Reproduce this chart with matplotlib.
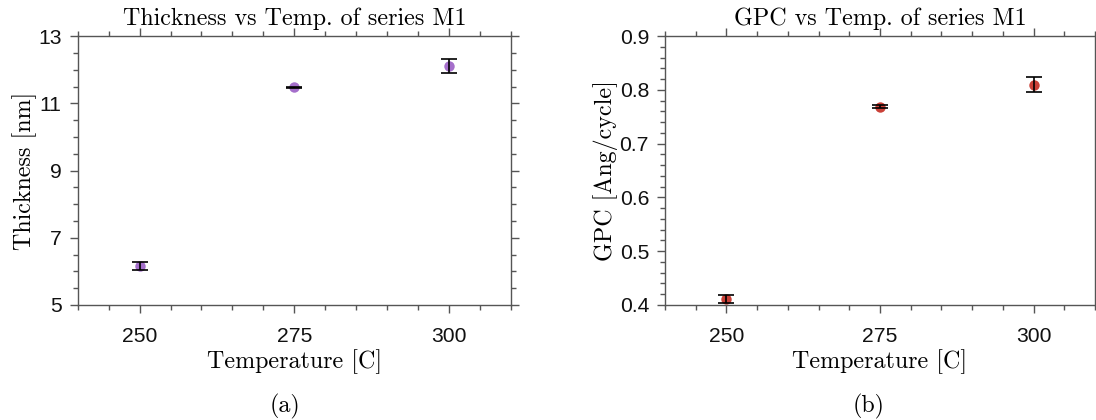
import matplotlib
matplotlib.use("Agg")
import matplotlib.pyplot as plt
from matplotlib.ticker import MultipleLocator, FormatStrFormatter

# Series M1: deposition temperature sweep
temps = [250, 275, 300]
thickness = [6.17, 11.48, 12.11]
thickness_err = [0.12, 0.02, 0.20]
gpc = [0.411, 0.769, 0.810]
gpc_err = [0.008, 0.002, 0.014]

thickness_ticks = [5, 7, 9, 11, 13]
gpc_ticks = [0.4, 0.5, 0.6, 0.7, 0.8, 0.9]

SERIF = "cmr10"
SANS = "Liberation Sans"
SPINE = "#555555"
LABEL_SIZE = 17.3

fig = plt.figure(figsize=(10.96, 4.2), dpi=100)
ax1 = fig.add_axes([0.0708, 0.274, 0.3956, 0.640])
ax2 = fig.add_axes([0.6068, 0.274, 0.3923, 0.640])


def style_axes(ax):
    for sp in ax.spines.values():
        sp.set_color(SPINE)
        sp.set_linewidth(1.0)
    ax.tick_params(which="both", direction="out", top=True, right=True,
                   color=SPINE, width=1.0)
    ax.tick_params(which="major", length=6)
    ax.tick_params(which="minor", length=3.5)
    ax.tick_params(axis="both", labelsize=15.2)
    ax.tick_params(axis="x", pad=10)
    ax.tick_params(axis="y", pad=5.5)
    for lab in ax.get_xticklabels() + ax.get_yticklabels():
        lab.set_fontfamily(SANS)
        lab.set_color("#111111")
    ax.set_xlim(240, 310)
    ax.set_xticks(temps)
    ax.xaxis.set_minor_locator(MultipleLocator(5))


# (a) thickness
ax1.errorbar(temps, thickness, yerr=thickness_err, fmt="none", ecolor="black",
             elinewidth=1.2, capsize=5.5, capthick=1.2, zorder=3)
ax1.plot(temps, thickness, "o", color="#9b5fc6", markersize=7.5, alpha=0.9,
         markeredgewidth=0, zorder=2)
ax1.set_ylim(5, 13)
ax1.set_yticks(thickness_ticks)
ax1.yaxis.set_minor_locator(MultipleLocator(0.5))
style_axes(ax1)
ax1.set_title("Thickness vs Temp. of series M1", fontfamily=SERIF,
              fontsize=LABEL_SIZE, pad=8)
ax1.set_xlabel("Temperature [C]", fontfamily=SERIF, fontsize=LABEL_SIZE, labelpad=2)
ax1.set_ylabel("Thickness [nm]", fontfamily=SERIF, fontsize=LABEL_SIZE, labelpad=1)

# (b) growth per cycle
ax2.errorbar(temps, gpc, yerr=gpc_err, fmt="none", ecolor="black",
             elinewidth=1.2, capsize=5.5, capthick=1.2, zorder=3)
ax2.plot(temps, gpc, "o", color="#c8372d", markersize=7.5, alpha=0.95,
         markeredgewidth=0, zorder=2)
ax2.set_ylim(0.4, 0.9)
ax2.set_yticks(gpc_ticks)
ax2.yaxis.set_minor_locator(MultipleLocator(0.02))
ax2.yaxis.set_major_formatter(FormatStrFormatter("%.1f"))
style_axes(ax2)
ax2.set_title("GPC vs Temp. of series M1", fontfamily=SERIF,
              fontsize=LABEL_SIZE, pad=8)
ax2.set_xlabel("Temperature [C]", fontfamily=SERIF, fontsize=LABEL_SIZE, labelpad=2)
ax2.set_ylabel("GPC [Ang/cycle]", fontfamily=SERIF, fontsize=LABEL_SIZE, labelpad=1)

# subfigure captions
fig.text(285 / 1096, 1 - 406 / 420, "(a)", fontfamily=SERIF, fontsize=LABEL_SIZE,
         ha="center", va="center")
fig.text(869 / 1096, 1 - 406 / 420, "(b)", fontfamily=SERIF, fontsize=LABEL_SIZE,
         ha="center", va="center")

fig.savefig("out.png", dpi=100, facecolor="white")
